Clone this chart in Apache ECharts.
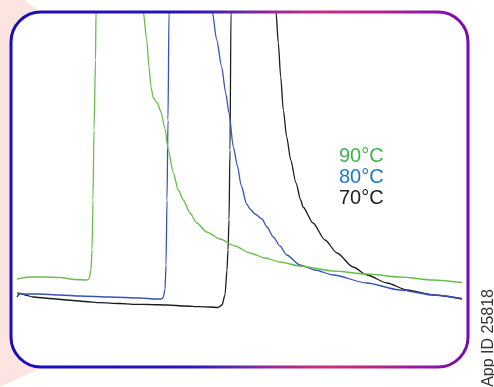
<!DOCTYPE html>
<html>
<head>
<meta charset="utf-8">
<title>Temperature traces</title>
<script src="https://cdn.jsdelivr.net/npm/echarts@6/dist/echarts.min.js"></script>
<style>
  html, body { margin: 0; padding: 0; background: #ffffff; }
  #chart { width: 494px; height: 387px; }
</style>
</head>
<body>
<div id="chart"></div>
<script>
// Series names (temperatures)
const seriesNames = ['90°C', '80°C', '70°C'];

// 90 °C trace: time (min) and detector signal
const time90 = [0, 1.3, 2.8, 4.3, 5.8, 7.0, 7.2, 7.4, 7.5, 7.6, 7.7, 7.85, 7.9, 10.2,
  12.63, 12.97, 13.2, 13.4, 13.63, 14.03, 14.4, 14.8, 15.13, 15.63, 16.13, 16.63, 17.3,
  17.97, 18.97, 20.3, 21.8, 23.3, 24.8, 26.3, 28.3, 31.6, 35.0, 38.3, 41.6, 44.5];
const signal90 = [8.8, 9.0, 9.0, 8.95, 8.75, 8.7, 8.8, 9.7, 11.7, 16.7, 23.7, 30.7, 35.5, 60,
  35.5, 32.7, 30.0, 28.0, 26.9, 26.4, 25.5, 23.8, 21.7, 19.4, 17.7, 16.7, 15.4,
  14.4, 13.5, 12.8, 12.1, 11.4, 10.9, 10.5, 10.1, 9.6, 9.3, 9.0, 8.7, 8.45];

// 80 °C trace
const time80 = [0, 0.8, 2.3, 4.3, 6.3, 9.3, 12.3, 13.8, 14.4, 14.6, 14.8, 14.9, 15.0, 15.1, 15.2, 17.4,
  19.53, 19.97, 20.47, 20.87, 21.2, 21.63, 22.07, 22.4, 22.97, 23.3, 23.8, 24.5, 25.0, 25.63,
  26.3, 26.97, 28.3, 29.8, 31.63, 34.97, 38.3, 41.63, 44.5];
const signal80 = [7.4, 7.3, 7.3, 7.2, 7.1, 7.0, 6.9, 6.8, 6.8, 6.9, 7.7, 10.2, 16.7, 24.7, 35.5, 60,
  35.5, 32.7, 30.0, 27.4, 25.4, 22.0, 20.0, 18.2, 16.3, 15.8, 15.3, 14.8, 14.0, 13.0,
  12.1, 11.2, 10.2, 9.7, 9.2, 8.4, 7.7, 7.2, 6.85];

// 70 °C trace
const time70 = [0, 0.3, 0.8, 1.6, 3.3, 5.0, 6.8, 8.3, 10.3, 11.6, 13.3, 15.0, 16.8, 18.3, 19.3, 20.1,
  20.5, 20.8, 21.0, 21.1, 21.2, 21.3, 21.4, 23.6,
  25.9, 26.13, 26.37, 26.63, 26.97, 27.37, 27.9, 28.37, 28.6, 29.6, 30.8, 32.0, 33.6, 35.0,
  37.0, 39.0, 41.6, 44.5];
const signal70 = [7.0, 7.35, 7.2, 7.0, 6.85, 6.7, 6.55, 6.43, 6.35, 6.27, 6.25, 6.2, 6.1, 6.03, 6.0, 5.95,
  6.2, 7.2, 9.7, 11.7, 14.7, 21.7, 35.5, 60,
  35.5, 32.4, 29.0, 25.7, 23.0, 20.7, 18.4, 16.7, 16.0, 14.4, 12.7, 11.4, 10.0, 9.2,
  8.4, 7.7, 7.2, 6.8];

// Visible axis ranges
const timeRange = [0, 44.5];
const signalRange = [0, 35.5];

const lineColors = ['#67be47', '#3553b3', '#1c1c1c'];
const labelColors = ['#3fb44c', '#1d78c9', '#222222'];

function pairs(xs, ys) { return xs.map((x, i) => [x, ys[i]]); }
const traces = [pairs(time90, signal90), pairs(time80, signal80), pairs(time70, signal70)];

const font = '"Liberation Sans", Arial, Helvetica, sans-serif';

const chart = echarts.init(document.getElementById('chart'), null, { renderer: 'canvas' });

chart.setOption({
  animation: false,
  backgroundColor: '#ffffff',
  grid: { left: 17, right: 32, top: 12, bottom: 20, containLabel: false },
  xAxis: {
    type: 'value', min: timeRange[0], max: timeRange[1],
    show: false
  },
  yAxis: {
    type: 'value', min: signalRange[0], max: signalRange[1],
    show: false
  },
  legend: {
    orient: 'vertical',
    left: 329,
    top: 141,
    icon: 'none',
    itemWidth: 0,
    itemHeight: 14,
    itemGap: 0,
    selectedMode: false,
    textStyle: { fontFamily: font, fontSize: 20, lineHeight: 21 },
    data: seriesNames.map((n, i) => ({ name: n, textStyle: { color: labelColors[i] } }))
  },
  series: seriesNames.map((name, i) => ({
    name: name,
    type: 'line',
    data: traces[i],
    showSymbol: false,
    clip: true,
    smooth: 0.25,
    smoothMonotone: 'x',
    lineStyle: { color: lineColors[i], width: 1.3 },
    itemStyle: { color: lineColors[i] },
    z: 3 - i
  })),
  graphic: [
    {
      type: 'polygon', z: -10, silent: true,
      shape: { points: [[0, 0], [24, 0], [80, 40], [80, 350], [0, 387]] },
      style: { fill: '#fce5e0' }
    },
    {
      type: 'rect', z: -5, silent: true,
      shape: { x: 11, y: 12, width: 457, height: 355, r: 30 },
      style: { fill: '#ffffff' }
    },
    {
      type: 'rect', z: 50, silent: true,
      shape: { x: 11, y: 12, width: 457, height: 355, r: 30 },
      style: {
        fill: 'none',
        lineWidth: 3,
        stroke: new echarts.graphic.LinearGradient(0, 0, 1, 0, [
          { offset: 0, color: '#1a0cbf' },
          { offset: 0.39, color: '#2a12bc' },
          { offset: 0.48, color: '#5a26aa' },
          { offset: 0.58, color: '#9a2c96' },
          { offset: 0.68, color: '#c72e7c' },
          { offset: 0.81, color: '#b4228a' },
          { offset: 0.92, color: '#8e12aa' },
          { offset: 1, color: '#7a0aa8' }
        ])
      }
    },
    {
      type: 'text', z: 50, silent: true,
      x: 497, y: 289, rotation: Math.PI / 2,
      style: {
        text: 'App ID 25818',
        font: '16px ' + font,
        fill: '#333333',
        textAlign: 'right',
        textVerticalAlign: 'bottom'
      }
    }
  ]
});
</script>
</body>
</html>
